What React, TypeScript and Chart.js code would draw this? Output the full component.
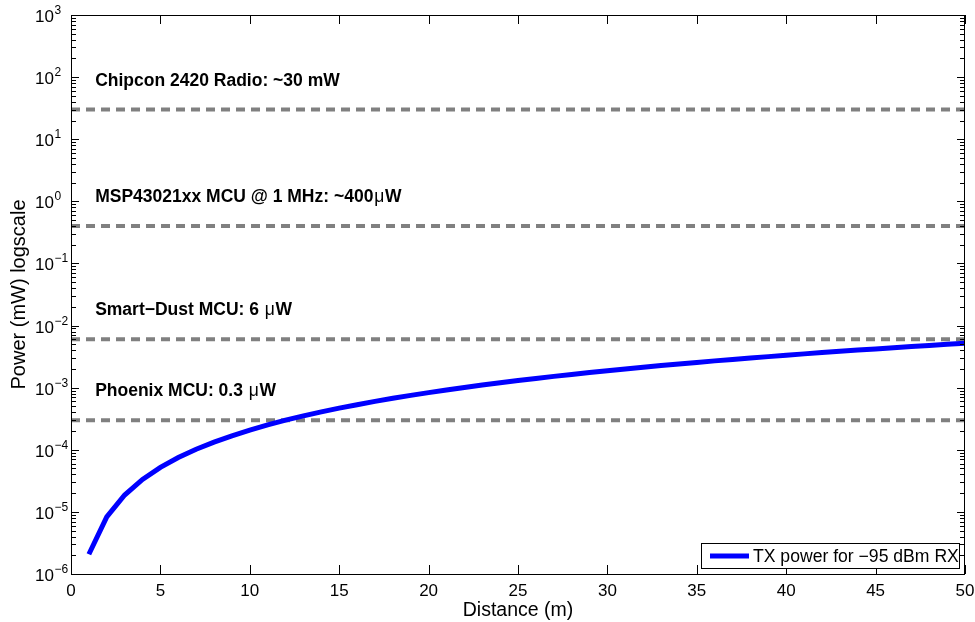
import React, { useEffect, useRef } from "react";
import { Chart, registerables } from "chart.js";

Chart.register(...registerables);

// Transmit power needed at each distance (m) for -95 dBm at the receiver, in mW
const distance = [
  1, 2, 3, 4, 5, 6, 7, 8, 9, 10,
  11, 12, 13, 14, 15, 16, 17, 18, 19, 20,
  21, 22, 23, 24, 25, 26, 27, 28, 29, 30,
  31, 32, 33, 34, 35, 36, 37, 38, 39, 40,
  41, 42, 43, 44, 45, 46, 47, 48, 49, 50,
];
const txPower = [
  2.08e-6, 8.32e-6, 1.87e-5, 3.33e-5, 5.2e-5, 7.49e-5, 1.02e-4, 1.33e-4, 1.68e-4, 2.08e-4,
  2.52e-4, 3.0e-4, 3.52e-4, 4.08e-4, 4.68e-4, 5.32e-4, 6.01e-4, 6.74e-4, 7.51e-4, 8.32e-4,
  9.17e-4, 1.007e-3, 1.1e-3, 1.2e-3, 1.3e-3, 1.41e-3, 1.52e-3, 1.63e-3, 1.75e-3, 1.87e-3,
  2.0e-3, 2.13e-3, 2.27e-3, 2.4e-3, 2.55e-3, 2.7e-3, 2.85e-3, 3.0e-3, 3.16e-3, 3.33e-3,
  3.5e-3, 3.67e-3, 3.85e-3, 4.03e-3, 4.21e-3, 4.4e-3, 4.59e-3, 4.79e-3, 4.99e-3, 5.2e-3,
];

// Reference consumption levels (mW) and their captions
const refLevels = [30, 0.4, 0.006, 0.0003];
const refCaptions = [
  "Chipcon 2420 Radio: ~30 mW",
  "MSP43021xx MCU @ 1 MHz: ~400μW",
  "Smart\u2212Dust MCU: 6 μW",
  "Phoenix MCU: 0.3 μW",
];

const xTicks = [0, 5, 10, 15, 20, 25, 30, 35, 40, 45, 50];
const yDecades = [-6, -5, -4, -3, -2, -1, 0, 1, 2, 3];

const legendLabel = "TX power for \u221295 dBm RX";
const xTitle = "Distance (m)";
const yTitle = "Power (mW) logscale";

const FONT = "'Liberation Sans', Arial, Helvetica, sans-serif";

const framePlugin = {
  id: "matlabFrame",
  afterDatasetsDraw(chart: any) {
    const { ctx, chartArea: a, scales } = chart;
    const xs = scales.x;
    const ys = scales.y;
    ctx.save();
    ctx.strokeStyle = "#000";
    ctx.fillStyle = "#000";
    ctx.lineWidth = 1;

    // axis box
    ctx.strokeRect(a.left + 0.5, a.top + 0.5, a.right - a.left - 1, a.bottom - a.top);

    // x ticks, inward on bottom and top
    ctx.beginPath();
    for (const v of xTicks) {
      const px = Math.round(xs.getPixelForValue(v)) + 0.5;
      ctx.moveTo(px, a.bottom);
      ctx.lineTo(px, a.bottom - 9);
      ctx.moveTo(px, a.top);
      ctx.lineTo(px, a.top + 9);
    }
    // y ticks: decades plus minor ticks, inward on left and right
    for (const d of yDecades) {
      const py = Math.round(ys.getPixelForValue(Math.pow(10, d))) + 0.5;
      ctx.moveTo(a.left, py);
      ctx.lineTo(a.left + 8, py);
      ctx.moveTo(a.right, py);
      ctx.lineTo(a.right - 8, py);
      if (d < yDecades[yDecades.length - 1]) {
        for (let m = 2; m <= 9; m++) {
          const pm = Math.round(ys.getPixelForValue(m * Math.pow(10, d))) + 0.5;
          ctx.moveTo(a.left, pm);
          ctx.lineTo(a.left + 5, pm);
          ctx.moveTo(a.right, pm);
          ctx.lineTo(a.right - 5, pm);
        }
      }
    }
    ctx.stroke();

    // x tick labels
    ctx.font = `17px ${FONT}`;
    ctx.textAlign = "center";
    ctx.textBaseline = "alphabetic";
    for (const v of xTicks) {
      ctx.fillText(String(v), xs.getPixelForValue(v), a.bottom + 21.5);
    }

    // y tick labels as 10^n
    ctx.textAlign = "left";
    for (const d of yDecades) {
      const py = ys.getPixelForValue(Math.pow(10, d));
      ctx.font = `17px ${FONT}`;
      const bx = 35;
      ctx.fillText("10", bx, py + 7);
      const bw = ctx.measureText("10").width;
      ctx.font = `12px ${FONT}`;
      const exp = d < 0 ? "\u2212" + String(-d) : String(d);
      ctx.fillText(exp, bx + bw + 0.5, py - 1);
    }

    // axis titles
    ctx.font = `19.5px ${FONT}`;
    ctx.textAlign = "center";
    ctx.fillText(xTitle, (a.left + a.right) / 2, 616);
    ctx.save();
    ctx.font = `20px ${FONT}`;
    ctx.translate(25, (a.top + a.bottom) / 2);
    ctx.rotate(-Math.PI / 2);
    ctx.fillText(yTitle, 0, 0);
    ctx.restore();

    // captions above each reference level
    ctx.textAlign = "left";
    const cx = xs.getPixelForValue(1.35);
    refLevels.forEach((lvl, i) => {
      const base = ys.getPixelForValue(lvl) - 24;
      const parts = refCaptions[i].split("μ");
      let px = cx;
      parts.forEach((part, j) => {
        if (j > 0) {
          ctx.font = `17.5px ${FONT}`;
          px += 1;
          ctx.fillText("μ", px, base);
          px += ctx.measureText("μ").width + 0.5;
        }
        ctx.font = `bold 17.5px ${FONT}`;
        ctx.fillText(part, px, base);
        px += ctx.measureText(part).width;
      });
    });

    // legend box
    const lw = 258;
    const lh = 25;
    const lx = a.right - 6 - lw;
    const ly = a.bottom - 6 - lh;
    ctx.fillStyle = "#fff";
    ctx.fillRect(lx, ly, lw, lh);
    ctx.strokeStyle = "#000";
    ctx.lineWidth = 1;
    ctx.strokeRect(lx + 0.5, ly + 0.5, lw, lh);
    ctx.strokeStyle = "#0000ff";
    ctx.lineWidth = 5;
    ctx.beginPath();
    ctx.moveTo(lx + 9, ly + lh / 2 + 0.5);
    ctx.lineTo(lx + 48, ly + lh / 2 + 0.5);
    ctx.stroke();
    ctx.fillStyle = "#000";
    ctx.font = `17.6px ${FONT}`;
    ctx.textAlign = "left";
    ctx.fillText(legendLabel, lx + 52, ly + lh / 2 + 6.5);

    ctx.restore();
  },
};

export default function App() {
  const canvasRef = useRef<HTMLCanvasElement | null>(null);

  useEffect(() => {
    const canvas = canvasRef.current;
    if (!canvas) return;

    const refSets = refLevels.map((lvl) => ({
      label: String(lvl),
      data: [
        { x: 0, y: lvl },
        { x: 50, y: lvl },
      ],
      borderColor: "#808080",
      borderWidth: 4,
      borderDash: [9, 6],
      pointRadius: 0,
      fill: false,
    }));

    const chart = new Chart(canvas, {
      type: "line",
      data: {
        datasets: [
          {
            label: legendLabel,
            data: distance.map((d, i) => ({ x: d, y: txPower[i] })),
            borderColor: "#0000ff",
            borderWidth: 5,
            pointRadius: 0,
            fill: false,
            tension: 0,
          },
          ...refSets,
        ],
      },
      options: {
        animation: false,
        responsive: false,
        devicePixelRatio: 1,
        layout: { padding: { left: 71, right: 10, top: 15, bottom: 48 } },
        scales: {
          x: { type: "linear", min: 0, max: 50, display: false },
          y: { type: "logarithmic", min: 1e-6, max: 1e3, display: false },
        },
        plugins: {
          legend: { display: false },
          tooltip: { enabled: false },
        },
      },
      plugins: [framePlugin],
    });

    return () => chart.destroy();
  }, []);

  return (
    <div style={{ position: "absolute", left: 0, top: 0, width: 975, height: 622, background: "#fff" }}>
      <canvas ref={canvasRef} width={975} height={622} style={{ display: "block" }} />
    </div>
  );
}
